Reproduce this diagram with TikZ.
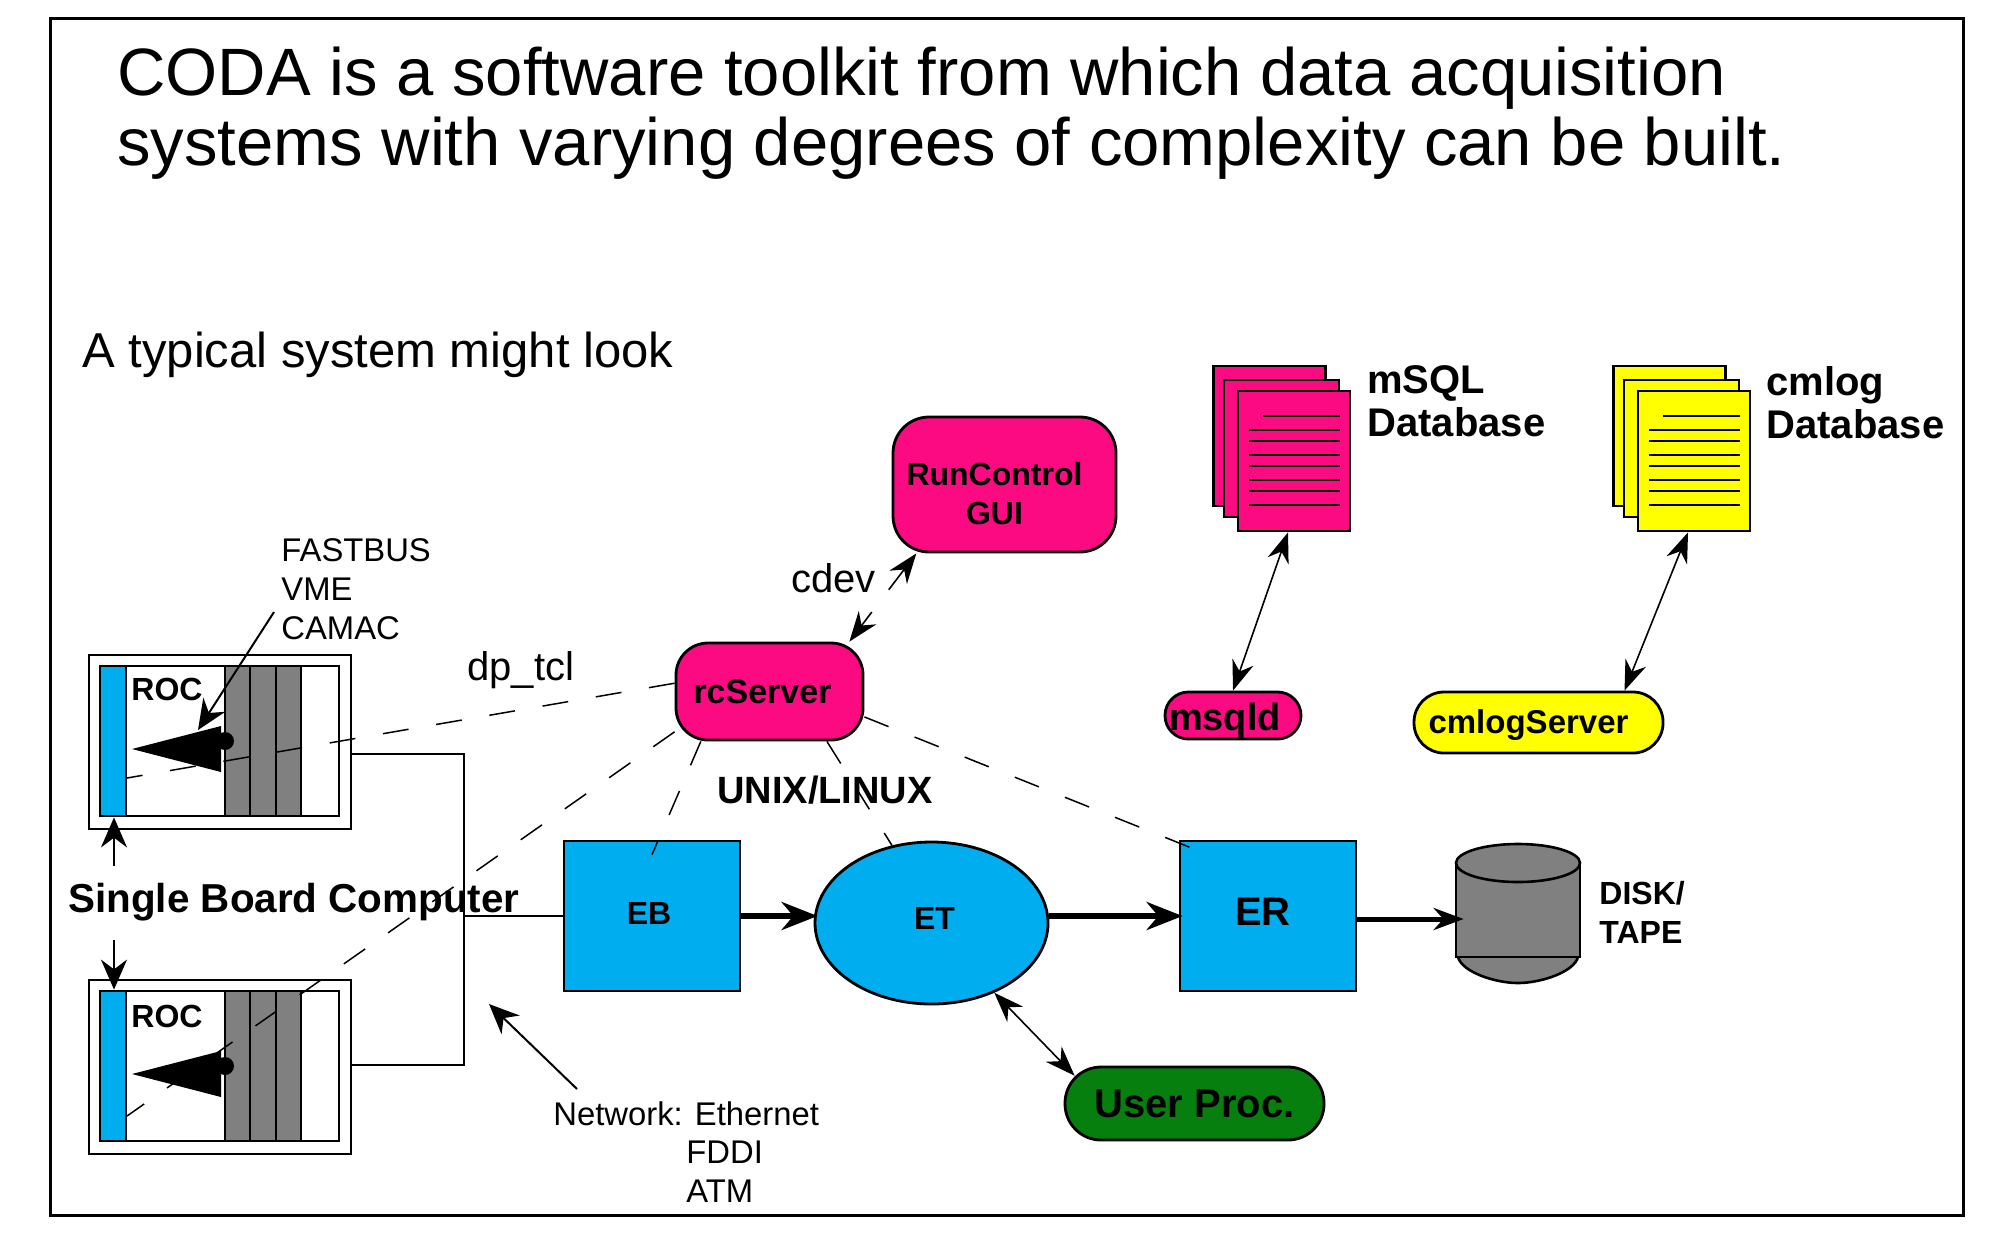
\documentclass[tikz,border=0pt]{standalone}
\usepackage{fontspec}
\setmainfont{Liberation Sans}
\usepackage{xcolor}
\usepackage{tikz}
\usetikzlibrary{shapes.geometric, arrows.meta, positioning}

\definecolor{dbpink}{HTML}{FB0A82}
\definecolor{procblue}{HTML}{00AEEF}
\definecolor{dbyellow}{HTML}{FFFF00}
\definecolor{userGreen}{HTML}{067F0E}
\definecolor{rackgray}{HTML}{808080}

\begin{document}
\begin{tikzpicture}[
    x=0.5pt, y=-0.5pt,
    txt/.style={anchor=base west, inner sep=0pt, align=left, font=\fontsize{16.4}{19.5}\selectfont},
    bold/.style={txt, font=\fontsize{16}{19.5}\selectfont\bfseries},
    dblabel/.style={txt, font=\fontsize{20}{21.5}\selectfont\bfseries},
    box/.style={draw, line width=1.4pt, rectangle, inner sep=0pt, align=center, font=\fontsize{16}{19.5}\selectfont\bfseries},
    roundbox/.style={box, fill=dbpink},
    sheet/.style={draw, line width=1.4pt, rectangle, inner sep=0pt},
    wire/.style={line width=1.3pt},
    arrow/.style={line width=1pt, -{Stealth[length=15pt, width=13pt]}},
    both/.style={line width=0.8pt, {Stealth[length=15pt, width=11pt]}-{Stealth[length=15pt, width=11pt]}},
    flow/.style={line width=3pt, shorten >=-2pt, -{Stealth[length=18pt, width=14pt]}},
    ctrl/.style={line width=0.75pt, dash pattern=on 13pt off 14pt}
]
    \useasboundingbox (0,0) rectangle (2000,1238);

    % Frame and headings
    \node[draw, line width=1.5pt, rectangle, inner sep=0pt, minimum width=956.5pt, minimum height=598.5pt] (frame) at (1006.5,616.5) {};
    \node[txt, font=\fontsize{33.5}{35}\selectfont] (title) at (117,165) {CODA is a software toolkit from which data acquisition\\systems with varying degrees of complexity can be built.};
    \node[txt, font=\fontsize{24.5}{30}\selectfont] (typical) at (82,367) {A typical system might look};

    % ROC crates
    \foreach \roc/\y in {rocA/742, rocB/1067} {
        \node[sheet, minimum width=131pt, minimum height=87pt] (\roc) at (220,\y) {};
        \node[sheet, minimum width=119.5pt, minimum height=75pt] (\roc Inner) at (219.5,\y-1) {};
        \node[sheet, fill=procblue, minimum width=13pt, minimum height=75pt] (\roc Bar) at (113,\y-1) {};
        \foreach \sx/\ex in {225/250, 250/276, 276/301}
            \draw[wire, fill=rackgray] (\sx,\y-76) rectangle (\ex,\y+74);
        \fill (132,\y+7) -- (221,\y-16) -- (221,\y+30) -- cycle;
        \fill (225,\y-1) circle (4.5pt);
    }
    \node[bold] (rocAName) at (131,700) {ROC};
    \node[bold] (rocBName) at (131,1027) {ROC};

    % Buses
    \node[txt] (busNames) at (281,639) {FASTBUS\\VME\\CAMAC};
    \coordinate (busTail) at (274,612);
    \coordinate (busTip) at (198,730);
    \draw[arrow] (busTail) -- (busTip);

    % Single board computer
    \node[txt, font=\fontsize{20.2}{23}\selectfont\bfseries] (sbc) at (68,912) {Single Board Computer};
    \coordinate (sbcUp) at (114,866);
    \coordinate (sbcDown) at (114,940);
    \draw[arrow] (sbcUp) -- (rocABar.south -| sbcUp);
    \draw[arrow] (sbcDown) -- (rocBBar.north -| sbcDown);

    % Run control
    \node[roundbox, rounded corners=18pt, minimum width=111.5pt, minimum height=67.5pt, text height=40pt] (gui) at (1004.5,484.5) {RunControl\kern10pt\\GUI\kern10pt};
    \node[roundbox, rounded corners=16pt, minimum width=93.5pt, minimum height=48.5pt, font=\fontsize{17}{20}\selectfont\bfseries] (rcServer) at (769.5,691.5) {rcServer\kern7pt};
    \node[txt, font=\fontsize{20}{23}\selectfont] (cdev) at (791,592) {cdev};
    \node[txt, font=\fontsize{20}{23}\selectfont] (dptcl) at (467,680) {dp\_tcl};
    \node[txt, font=\fontsize{19}{23}\selectfont\bfseries] (unix) at (717,803) {UNIX/LINUX};

    % Databases
    \foreach \db/\dx/\col in {msql/0/dbpink, cmlog/400/dbyellow} {
        \node[sheet, fill=\col, minimum width=56pt, minimum height=70pt] (\db Back) at (1269.5+\dx,436) {};
        \node[sheet, fill=\col, minimum width=57.5pt, minimum height=68.5pt] (\db Mid) at (1281.5+\dx,448.5) {};
        \node[sheet, fill=\col, minimum width=56pt, minimum height=70pt] (\db Top) at (1294+\dx,461) {};
        \draw[wire] (1263+\dx,416) -- (1340+\dx,416);
        \foreach \ly in {430,441,455,466,480,491,505}
            \draw[wire] (1249+\dx,\ly) -- (1340+\dx,\ly);
    }
    \node[dblabel] (msqlName) at (1367,436) {mSQL\\Database};
    \node[dblabel] (cmlogName) at (1766,438) {cmlog\\Database};
    \node[roundbox, rounded corners=11.7pt, minimum width=68pt, minimum height=23.5pt, text height=19pt, font=\fontsize{19}{23}\selectfont\bfseries] (msqld) at (1233,715.5) {msqld\kern8pt};
    \node[roundbox, fill=dbyellow, rounded corners=15pt, minimum width=124.5pt, minimum height=30.5pt, text height=14pt, font=\fontsize{16.5}{20}\selectfont\bfseries] (cmlogServer) at (1538.5,722.5) {cmlogServer\kern10pt};
    \draw[both] ([xshift=-3pt]msqlTop.south) -- (msqld.north);
    \draw[both] ([xshift=-3pt]cmlogTop.south) -- ([xshift=43pt]cmlogServer.north);

    % Data path
    \node[box, fill=procblue, minimum width=88pt, minimum height=75pt, text depth=2.5pt] (eb) at (652,916) {EB\kern3pt};
    \node[box, fill=procblue, ellipse, minimum width=116.5pt, minimum height=81pt, text depth=5pt] (et) at (931.5,923) {\kern3pt ET};
    \node[box, fill=procblue, minimum width=88pt, minimum height=75pt, text depth=4pt, font=\fontsize{20}{24}\selectfont\bfseries] (er) at (1268,916) {ER\kern5pt};
    \node[minimum width=62pt, minimum height=75pt, inner sep=0pt] (disk) at (1518,919) {};
    \fill[rackgray] (1456,863) -- (1456,957) -- (1458,957) .. controls (1462,972) and (1495,983) .. (1518,983) .. controls (1541,983) and (1574,972) .. (1578,957) -- (1580,957) -- (1580,863) -- cycle;
    \draw[wire] (1456,863) -- (1456,957) -- (1580,957) -- (1580,863);
    \draw[wire] (1458,957) .. controls (1462,972) and (1495,983) .. (1518,983) .. controls (1541,983) and (1574,972) .. (1578,957);
    \draw[wire, fill=rackgray] (1518,863) ellipse (31pt and 9.5pt);
    \node[bold] (diskName) at (1599,943) {DISK/\\TAPE};
    \node[roundbox, fill=userGreen, rounded corners=18pt, minimum width=129.5pt, minimum height=36.5pt, font=\fontsize{20}{22}\selectfont\bfseries] (user) at (1194.5,1103.5) {User Proc.};

    \draw[flow] (eb.east) -- (eb.east -| et.west);
    \draw[flow] (er.west -| et.east) -- (er.west);
    \draw[flow, line width=2.5pt, -{Stealth[length=15pt, width=11pt]}] ([yshift=-1.5pt]er.east) -- ([xshift=2pt]disk.west);
    \draw[both] (et.-48) -- ([xshift=5.5pt]user.168);

    % Network
    \coordinate (bus) at (464,916);
    \draw[wire] ([yshift=-6pt]rocA.east) -| (bus) |- ([yshift=1pt]rocB.east);
    \draw[wire] (bus) -- (eb.west);
    \node[txt] (netName) at (553,1125) {Network: Ethernet};
    \node[txt] (netFddi) at (686,1163) {FDDI};
    \node[txt] (netAtm) at (686,1202) {ATM};
    \coordinate (netTail) at (577,1089);
    \coordinate (netTip) at (489,1004);
    \draw[arrow] (netTail) -- (netTip);

    % Control links
    \coordinate (pinA) at (127,778);
    \coordinate (pinB) at (127,1116);
    \draw[ctrl] (rcServer.175) -- (pinA);
    \draw[ctrl] (rcServer.203) -- (pinB);
    \draw[ctrl] (rcServer.216) -- ([yshift=-7.5pt]eb.north);
    \draw[ctrl] (rcServer.-41) -- (et.117);
    \draw[ctrl] (rcServer.-15) -- ([xshift=11pt,yshift=-6pt]er.north west);
    \draw[ctrl, both] (gui.218) -- (rcServer.32);
\end{tikzpicture}
\end{document}
